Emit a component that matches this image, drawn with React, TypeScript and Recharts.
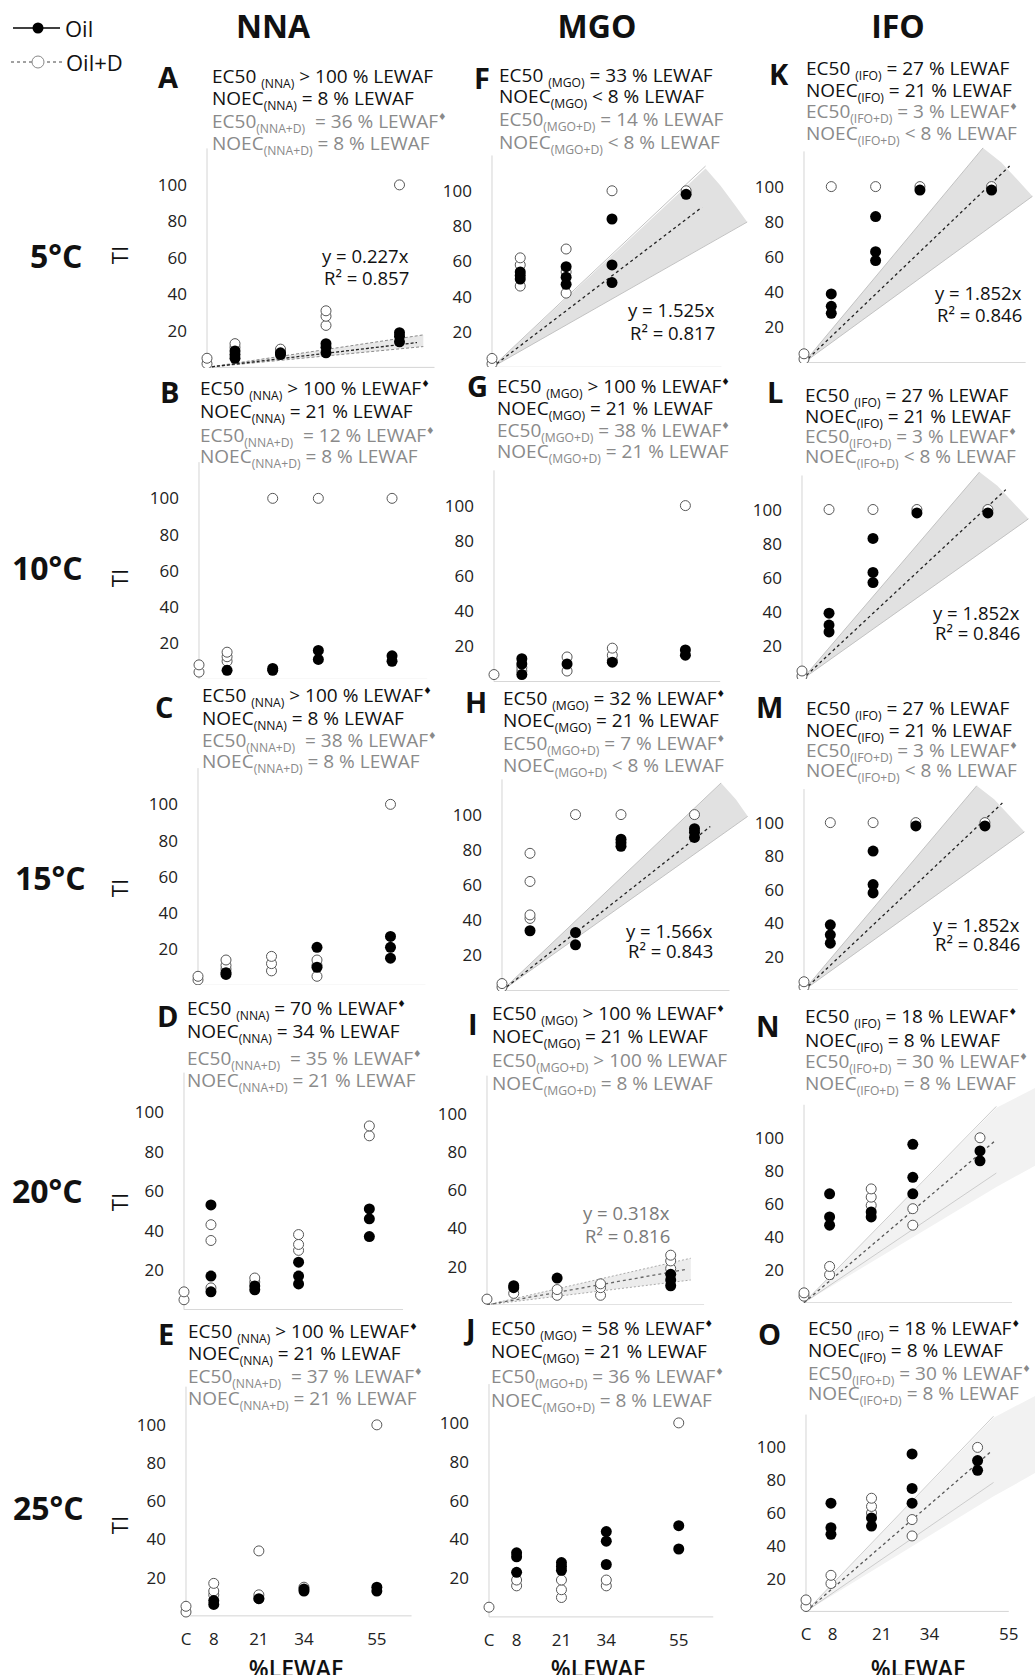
import React from 'react';
import { ComposedChart, Scatter, Line, Area, XAxis, YAxis, ReferenceLine } from 'recharts';

const FONT = "'Open Sans', 'DejaVu Sans', sans-serif";

// concentrations (%LEWAF), C = control
const CONC = [0, 8, 21, 34, 55];
const X_TICK_LABELS = ['C', '8', '21', '34', '55'];
const O_TICK_POS = [0, 8.5, 24.3, 39.6, 65];
const Y_TICKS = [20, 40, 60, 80, 100];

// TI values per concentration index [C, 8, 21, 34, 55]
// NNA
const A_oil = [[], [5, 7, 9], [7, 8], [8, 11, 13], [14, 17, 19]];
const A_oilD = [[2, 5], [11, 13], [8, 10], [23, 28, 31], [100]];
const B_oil = [[], [5], [5, 6], [11, 16], [10, 13]];
const B_oilD = [[4, 8], [10, 12.5, 15], [100], [100], [100]];
const C_oil = [[], [6, 7], [], [10, 21], [15, 21, 27]];
const C_oilD = [[3, 5], [9, 11, 14], [8, 12, 16], [5, 11, 14], [100]];
const D_oil = [[], [9, 17, 53], [10, 12], [13, 17, 24], [37, 46, 51]];
const D_oilD = [[5, 9], [11, 35, 43], [14, 16], [30, 33, 38], [88, 93]];
const E_oil = [[], [6, 8], [9], [13, 14], [13, 15]];
const E_oilD = [[2, 5], [11, 13, 17], [9, 11, 34], [15], [100]];
// MGO
const F_oil = [[], [50, 52, 54], [47, 51, 57], [48, 58, 84], [98]];
const F_oilD = [[2, 5], [46, 58, 62], [42, 54, 67], [100], [100]];
const G_oil = [[], [4, 10, 13], [10], [11], [15, 18]];
const G_oilD = [[4], [6, 8], [6, 14], [12, 15, 19], [100]];
const H_oil = [[], [34], [26, 33], [82, 84, 86], [87, 90, 92]];
const H_oilD = [[2, 4], [41, 43, 62, 78], [100], [100], [100]];
const I_oil = [[], [9, 10], [14], [], [10, 13, 16]];
const I_oilD = [[3], [6], [5, 8], [5, 9, 11], [19, 23, 26]];
const J_oil = [[], [23, 31, 33], [24, 26, 28], [27, 39, 44], [35, 47]];
const J_oilD = [[5], [16, 19], [10, 14, 19], [16, 19], [100]];
// IFO
const K_oil = [[], [28, 32, 39], [58, 63, 83], [98], [98]];
const K_oilD = [[2, 5], [100], [100], [100], [100]];
const L_oil = [[], [28, 32, 39], [57, 63, 83], [98], [98]];
const L_oilD = [[2, 5], [100], [100], [100], [100]];
const M_oil = [[], [28, 33, 39], [58, 63, 83], [98], [98]];
const M_oilD = [[2, 5], [100], [100], [100], [100]];
const N_oil = [[], [47, 52, 66], [52, 55], [66, 76, 96], [86, 92]];
const N_oilD = [[4, 6], [17, 22], [59, 64, 69], [47, 57], [100]];
const O_oil = [[], [47, 51, 66], [52, 57], [66, 75, 96], [86, 92]];
const O_oilD = [[3, 7], [17, 22], [60, 64, 69], [46, 56], [100]];

// regression fits (end points) and confidence bands
const A_fit = [{ x: 0, y: 0 }, { x: 60, y: 13.6 }];
const A_band = [{ x: 0, band: [0, 0] }, { x: 61.8, band: [11.4, 17.8] }];
const A_upper = [{ x: 0, y: 0 }, { x: 61.8, y: 17.8 }];
const A_lower = [{ x: 0, y: 0 }, { x: 61.8, y: 11.4 }];

const F_fit = [{ x: 0, y: 0 }, { x: 59.5, y: 90.7 }];
const F_band = [
  { x: 0, band: [0, 0] }, { x: 60.5, band: [69, 112.6] }, { x: 64.7, band: [73.8, 103] },
  { x: 68.6, band: [78.2, 92.5] }, { x: 72.3, band: [82.3, 82.3] },
];
const F_upper = [{ x: 0, y: 0 }, { x: 60.5, y: 114 }];
const F_lower = [{ x: 0, y: 0 }, { x: 72.3, y: 82.3 }];

const H_fit = [{ x: 0, y: 0 }, { x: 59.5, y: 93.2 }];
const H_band = [
  { x: 0, band: [0, 0] }, { x: 62.6, band: [88.3, 118] }, { x: 66.8, band: [94.2, 108.7] },
  { x: 70.2, band: [99, 99] },
];
const H_upper = [{ x: 0, y: 0 }, { x: 62.6, y: 118 }];
const H_lower = [{ x: 0, y: 0 }, { x: 70.2, y: 99 }];

const IFO_fit = [{ x: 0, y: 0 }, { x: 60.3, y: 111.7 }];
const IFO_band = [
  { x: 0, band: [0, 0] }, { x: 52.5, band: [74, 122] }, { x: 57.8, band: [81.5, 113.9] },
  { x: 62.4, band: [88, 104.3] }, { x: 67, band: [94.5, 94.5] },
];
const IFO_upper = [{ x: 0, y: 0 }, { x: 52.5, y: 122 }];
const IFO_lower = [{ x: 0, y: 0 }, { x: 67, y: 94.5 }];

const I_fit = [{ x: 0, y: 0 }, { x: 60.1, y: 18.7 }];
const I_band = [{ x: 0, band: [0, 0] }, { x: 61, band: [13, 24.4] }];
const I_upper = [{ x: 0, y: 0 }, { x: 61, y: 24.4 }];
const I_lower = [{ x: 0, y: 0 }, { x: 61, y: 13 }];

const NO_fit = [{ x: 0, y: 0 }, { x: 59.5, y: 97.8 }];
const NO_band = [{ x: 0, band: [0, 0] }, { x: 60, band: [70, 118] }, { x: 74, band: [85, 132] }];
const NO_upper = [{ x: 0, y: 0 }, { x: 60.1, y: 119 }];
const NO_lower = [{ x: 0, y: 0 }, { x: 60.1, y: 78.6 }];

// annotation texts ( _sub_  ^sup^ )
const ANN_A = ['EC50 _(NNA)_ > 100 % LEWAF', 'NOEC_(NNA)_ = 8 % LEWAF', 'EC50_(NNA+D)_  = 36 % LEWAF^♦^', 'NOEC_(NNA+D)_ = 8 % LEWAF'];
const ANN_B = ['EC50 _(NNA)_ > 100 % LEWAF^♦^', 'NOEC_(NNA)_ = 21 % LEWAF', 'EC50_(NNA+D)_  = 12 % LEWAF^♦^', 'NOEC_(NNA+D)_ = 8 % LEWAF'];
const ANN_C = ['EC50 _(NNA)_ > 100 % LEWAF^♦^', 'NOEC_(NNA)_ = 8 % LEWAF', 'EC50_(NNA+D)_  = 38 % LEWAF^♦^', 'NOEC_(NNA+D)_ = 8 % LEWAF'];
const ANN_D = ['EC50 _(NNA)_ = 70 % LEWAF^♦^', 'NOEC_(NNA)_ = 34 % LEWAF', 'EC50_(NNA+D)_  = 35 % LEWAF^♦^', 'NOEC_(NNA+D)_ = 21 % LEWAF'];
const ANN_E = ['EC50 _(NNA)_ > 100 % LEWAF^♦^', 'NOEC_(NNA)_ = 21 % LEWAF', 'EC50_(NNA+D)_  = 37 % LEWAF^♦^', 'NOEC_(NNA+D)_ = 21 % LEWAF'];
const ANN_F = ['EC50 _(MGO)_ = 33 % LEWAF', 'NOEC_(MGO)_ < 8 % LEWAF', 'EC50_(MGO+D)_ = 14 % LEWAF', 'NOEC_(MGO+D)_ < 8 % LEWAF'];
const ANN_G = ['EC50 _(MGO)_ > 100 % LEWAF^♦^', 'NOEC_(MGO)_ = 21 % LEWAF', 'EC50_(MGO+D)_ = 38 % LEWAF^♦^', 'NOEC_(MGO+D)_ = 21 % LEWAF'];
const ANN_H = ['EC50 _(MGO)_ = 32 % LEWAF^♦^', 'NOEC_(MGO)_ = 21 % LEWAF', 'EC50_(MGO+D)_ = 7 % LEWAF^♦^', 'NOEC_(MGO+D)_ < 8 % LEWAF'];
const ANN_I = ['EC50 _(MGO)_ > 100 % LEWAF^♦^', 'NOEC_(MGO)_ = 21 % LEWAF', 'EC50_(MGO+D)_ > 100 % LEWAF', 'NOEC_(MGO+D)_ = 8 % LEWAF'];
const ANN_J = ['EC50 _(MGO)_ = 58 % LEWAF^♦^', 'NOEC_(MGO)_ = 21 % LEWAF', 'EC50_(MGO+D)_ = 36 % LEWAF^♦^', 'NOEC_(MGO+D)_ = 8 % LEWAF'];
const ANN_KLM = ['EC50 _(IFO)_ = 27 % LEWAF', 'NOEC_(IFO)_ = 21 % LEWAF', 'EC50_(IFO+D)_ = 3 % LEWAF^♦^', 'NOEC_(IFO+D)_ < 8 % LEWAF'];
const ANN_NO = ['EC50 _(IFO)_ = 18 % LEWAF^♦^', 'NOEC_(IFO)_ = 8 % LEWAF', 'EC50_(IFO+D)_ = 30 % LEWAF^♦^', 'NOEC_(IFO+D)_ = 8 % LEWAF'];

const XMAX = 80;
const YMAX = 135;
const YW = 60;

const STYLES: any = {
  grey: { fill: '#e1e1e1', edge: '#c2c2c2', edgeDash: undefined, fit: '#222', fitDash: '3 3' },
  dash: { fill: '#e8e8e8', edge: '#8a8a8a', edgeDash: '3 2', fit: '#222', fitDash: '3 2' },
  light: { fill: '#ececec', edge: '#aaaaaa', edgeDash: '2 2', fit: '#666', fitDash: '3 3' },
  faint: { fill: '#f2f2f2', edge: '#cccccc', edgeDash: undefined, fit: '#555', fitDash: '3 3' },
};

const PANELS: any[] = [
  { id: 'A', ax: 207, y0: 367.5, sx: 3.5, sy: 1.825, oil: A_oil, oilD: A_oilD, fit: A_fit, band: A_band, upper: A_upper, lower: A_lower, st: 'dash',
    ann: ANN_A, tx: 212, lines: [83, 105, 128, 150], lx: 158, ly: 88, eq: ['y = 0.227x', 'R² = 0.857'], ex: 322, ey: [263, 285] },
  { id: 'B', ax: 199, y0: 679, sx: 3.51, sy: 1.81, oil: B_oil, oilD: B_oilD,
    ann: ANN_B, tx: 200, lines: [395, 418, 442, 463], lx: 160, ly: 403 },
  { id: 'C', ax: 197.5, y0: 985, sx: 3.5, sy: 1.81, oil: C_oil, oilD: C_oilD,
    ann: ANN_C, tx: 202, lines: [702, 725, 747, 768], lx: 155, ly: 718 },
  { id: 'D', ax: 184, y0: 1309.5, sx: 3.37, sy: 1.975, oil: D_oil, oilD: D_oilD,
    ann: ANN_D, tx: 187, lines: [1015, 1038, 1065, 1087], lx: 157, ly: 1027 },
  { id: 'E', ax: 186, y0: 1616, sx: 3.47, sy: 1.91, oil: E_oil, oilD: E_oilD, bottom: CONC,
    ann: ANN_E, tx: 188, lines: [1338, 1360, 1383, 1405], lx: 158, ly: 1345 },
  { id: 'F', ax: 492, y0: 367, sx: 3.53, sy: 1.765, oil: F_oil, oilD: F_oilD, fit: F_fit, band: F_band, upper: F_upper, lower: F_lower, st: 'grey',
    ann: ANN_F, tx: 499, lines: [82, 103, 126, 149], lx: 474, ly: 89, eq: ['y = 1.525x', 'R² = 0.817'], ex: 628, ey: [317, 340] },
  { id: 'G', ax: 494, y0: 682, sx: 3.48, sy: 1.76, oil: G_oil, oilD: G_oilD,
    ann: ANN_G, tx: 497, lines: [393, 415, 437, 458], lx: 467, ly: 397 },
  { id: 'H', ax: 501.5, y0: 991, sx: 3.5, sy: 1.76, oil: H_oil, oilD: H_oilD, fit: H_fit, band: H_band, upper: H_upper, lower: H_lower, st: 'grey',
    ann: ANN_H, tx: 503, lines: [705, 727, 750, 772], lx: 465, ly: 713, eq: ['y = 1.566x', 'R² = 0.843'], ex: 626, ey: [938, 958] },
  { id: 'I', ax: 487, y0: 1305, sx: 3.34, sy: 1.91, oil: I_oil, oilD: I_oilD, fit: I_fit, band: I_band, upper: I_upper, lower: I_lower, st: 'light',
    ann: ANN_I, tx: 492, lines: [1020, 1043, 1067, 1090], lx: 468, ly: 1035, eq: ['y = 0.318x', 'R² = 0.816'], ex: 583, ey: [1220, 1243], eqGrey: true },
  { id: 'J', ax: 488.6, y0: 1617, sx: 3.45, sy: 1.94, oil: J_oil, oilD: J_oilD, bottom: CONC,
    ann: ANN_J, tx: 491, lines: [1335, 1358, 1383, 1407], lx: 466, ly: 1340 },
  { id: 'K', ax: 803.6, y0: 363, sx: 3.41, sy: 1.76, oil: K_oil, oilD: K_oilD, fit: IFO_fit, band: IFO_band, upper: IFO_upper, lower: IFO_lower, st: 'grey',
    ann: ANN_KLM, tx: 806, lines: [75, 97, 118, 140], lx: 769, ly: 85, eq: ['y = 1.852x', 'R² = 0.846'], ex: 935, ey: [300, 322] },
  { id: 'L', ax: 802.4, y0: 679, sx: 3.38, sy: 1.7, oil: L_oil, oilD: L_oilD, fit: IFO_fit, band: IFO_band, upper: IFO_upper, lower: IFO_lower, st: 'grey',
    ann: ANN_KLM, tx: 805, lines: [402, 423, 443, 463], lx: 767, ly: 403, eq: ['y = 1.852x', 'R² = 0.846'], ex: 933, ey: [620, 640] },
  { id: 'M', ax: 803.6, y0: 990, sx: 3.29, sy: 1.675, oil: M_oil, oilD: M_oilD, fit: IFO_fit, band: IFO_band, upper: IFO_upper, lower: IFO_lower, st: 'grey',
    ann: ANN_KLM, tx: 806, lines: [715, 737, 757, 777], lx: 756, ly: 718, eq: ['y = 1.852x', 'R² = 0.846'], ex: 933, ey: [932, 951] },
  { id: 'N', ax: 803.6, y0: 1303, sx: 3.2, sy: 1.65, oil: N_oil, oilD: N_oilD, fit: NO_fit, band: NO_band, upper: NO_upper, lower: NO_lower, st: 'faint',
    ann: ANN_NO, tx: 805, lines: [1023, 1047, 1068, 1090], lx: 756, ly: 1037 },
  { id: 'O', ax: 806.2, y0: 1611, sx: 3.12, sy: 1.64, oil: O_oil, oilD: O_oilD, fit: NO_fit, band: NO_band, upper: NO_upper, lower: NO_lower, st: 'faint', bottom: O_TICK_POS,
    ann: ANN_NO, tx: 808, lines: [1335, 1357, 1380, 1400], lx: 758, ly: 1345 },
];

const toPoints = (arr: number[][]) => arr.flatMap((vals, i) => vals.map((v) => ({ x: CONC[i], y: v })));

const FilledDot = (props: any) => <circle cx={props.cx} cy={props.cy} r={5.5} fill="#000" />;
const OpenDot = (props: any) => (
  <circle cx={props.cx} cy={props.cy} r={5} fill="#fff" stroke="#555" strokeWidth={1} />
);

function Panel({ p }: { p: any }) {
  const plotW = XMAX * p.sx;
  const plotH = YMAX * p.sy;
  const xh = p.bottom ? 40 : 0;
  const st = p.st ? STYLES[p.st] : null;
  return (
    <div style={{ position: 'absolute', left: p.ax - YW, top: p.y0 - plotH }}>
      <ComposedChart width={YW + plotW} height={plotH + xh} data={p.band || []} margin={{ top: 0, right: 0, bottom: 0, left: 0 }}>
        <XAxis
          type="number" dataKey="x" domain={[0, XMAX]} hide={!p.bottom}
          ticks={p.bottom || CONC} tickFormatter={(v: any, i: number) => X_TICK_LABELS[i]}
          axisLine={false} tickLine={false} tickSize={0} tickMargin={17} height={xh || 30}
          tick={{ fill: '#222', fontSize: 17, fontFamily: FONT }} interval={0}
        />
        <YAxis
          type="number" domain={[0, YMAX]} ticks={Y_TICKS} width={YW}
          axisLine={false} tickLine={false} tickSize={0} tickMargin={20}
          tick={{ fill: '#222', fontSize: 17, fontFamily: FONT }} interval={0}
        />
        {p.band && (
          <Area dataKey="band" type="linear" fill={st.fill} fillOpacity={1} stroke="none" dot={false} activeDot={false} isAnimationActive={false} />
        )}
        <ReferenceLine segment={[{ x: 0, y: 0 }, { x: 0, y: 120 }]} stroke="#d4d4d4" strokeWidth={1} />
        <ReferenceLine segment={[{ x: 0, y: 0 }, { x: 65, y: 0 }]} stroke="#d4d4d4" strokeWidth={1} />
        {p.upper && (
          <Line data={p.upper} dataKey="y" type="linear" stroke={st.edge} strokeWidth={1} strokeDasharray={st.edgeDash} dot={false} activeDot={false} isAnimationActive={false} />
        )}
        {p.lower && (
          <Line data={p.lower} dataKey="y" type="linear" stroke={st.edge} strokeWidth={1} strokeDasharray={st.edgeDash} dot={false} activeDot={false} isAnimationActive={false} />
        )}
        {p.fit && (
          <Line data={p.fit} dataKey="y" type="linear" stroke={st.fit} strokeWidth={1.3} strokeDasharray={st.fitDash} dot={false} activeDot={false} isAnimationActive={false} />
        )}
        <Scatter data={toPoints(p.oilD)} dataKey="y" shape={OpenDot} isAnimationActive={false} />
        <Scatter data={toPoints(p.oil)} dataKey="y" shape={FilledDot} isAnimationActive={false} />
      </ComposedChart>
    </div>
  );
}

function Rich({ x, y, text, size, fill }: any) {
  const parts: { t: string; m: string }[] = [];
  let mode = 'n';
  let buf = '';
  for (const ch of text) {
    if (ch === '_' || ch === '^') {
      if (buf) parts.push({ t: buf, m: mode });
      buf = '';
      const target = ch === '_' ? 'sub' : 'sup';
      mode = mode === target ? 'n' : target;
    } else buf += ch;
  }
  if (buf) parts.push({ t: buf, m: mode });
  let cur = 0;
  return (
    <text x={x} y={y} fontSize={size} fill={fill} fontFamily={FONT} style={{ whiteSpace: 'pre' }}>
      {parts.map((pt, i) => {
        const off = pt.m === 'sub' ? 4.5 : pt.m === 'sup' ? -8 : 0;
        const dy = off - cur;
        cur = off;
        const fs = pt.m === 'sub' ? size * 0.64 : pt.m === 'sup' ? size * 0.5 : size;
        return (
          <tspan key={i} dy={dy} fontSize={fs}>
            {pt.t}
          </tspan>
        );
      })}
    </text>
  );
}

const HEADERS = [
  { t: 'NNA', x: 273 },
  { t: 'MGO', x: 597 },
  { t: 'IFO', x: 898 },
];
const ROWS = [
  { t: '5°C', x: 30, y: 268, ti: 255 },
  { t: '10°C', x: 12, y: 580, ti: 578 },
  { t: '15°C', x: 15, y: 890, ti: 888 },
  { t: '20°C', x: 12, y: 1203, ti: 1202 },
  { t: '25°C', x: 13, y: 1520, ti: 1525 },
];
const XTITLES = [296, 598, 918];

function Overlay() {
  return (
    <svg width={1035} height={1675} style={{ position: 'absolute', left: 0, top: 0, pointerEvents: 'none' }}>
      {/* legend */}
      <line x1={13} y1={28} x2={60} y2={28} stroke="#000" strokeWidth={1.6} />
      <circle cx={38} cy={28} r={5.5} fill="#000" />
      <text x={65} y={37} fontSize={22} fontFamily={FONT} fill="#111">Oil</text>
      <line x1={11} y1={62} x2={64} y2={62} stroke="#444" strokeWidth={1} strokeDasharray="3 3" />
      <circle cx={38} cy={62} r={6} fill="#fff" stroke="#888" strokeWidth={1} />
      <text x={66} y={71} fontSize={22} fontFamily={FONT} fill="#111">Oil+D</text>

      {HEADERS.map((h) => (
        <text key={h.t} x={h.x} y={38} textAnchor="middle" fontSize={32} fontWeight={700} fontFamily={FONT} fill="#111">{h.t}</text>
      ))}
      {ROWS.map((r) => (
        <g key={r.t}>
          <text x={r.x} y={r.y} fontSize={32} fontWeight={700} fontFamily={FONT} fill="#111">{r.t}</text>
          <text transform={`translate(128, ${r.ti}) rotate(-90)`} textAnchor="middle" fontSize={22} fontFamily={FONT} fill="#111">TI</text>
        </g>
      ))}
      {XTITLES.map((x, i) => (
        <text key={i} x={x} y={1677} textAnchor="middle" fontSize={23} fontWeight={600} fontFamily={FONT} fill="#111">%LEWAF</text>
      ))}
      {PANELS.map((p) => (
        <g key={p.id}>
          <text x={p.lx} y={p.ly} fontSize={29} fontWeight={700} fontFamily={FONT} fill="#111">{p.id}</text>
          {p.ann.map((t: string, i: number) => (
            <Rich key={i} x={p.tx} y={p.lines[i]} text={t} size={19} fill={i < 2 ? '#111' : '#8a8a8a'} />
          ))}
          {p.eq && p.eq.map((t: string, i: number) => (
            <Rich key={'e' + i} x={p.ex + i * 2} y={p.ey[i]} text={t} size={18.5} fill={p.eqGrey ? '#7a7a7a' : '#111'} />
          ))}
        </g>
      ))}
    </svg>
  );
}

export default function App() {
  return (
    <div style={{ position: 'absolute', left: 0, top: 0, width: 1035, height: 1675, overflow: 'hidden', background: '#fff', fontFamily: FONT }}>
      {PANELS.map((p) => (
        <Panel key={p.id} p={p} />
      ))}
      <Overlay />
    </div>
  );
}
